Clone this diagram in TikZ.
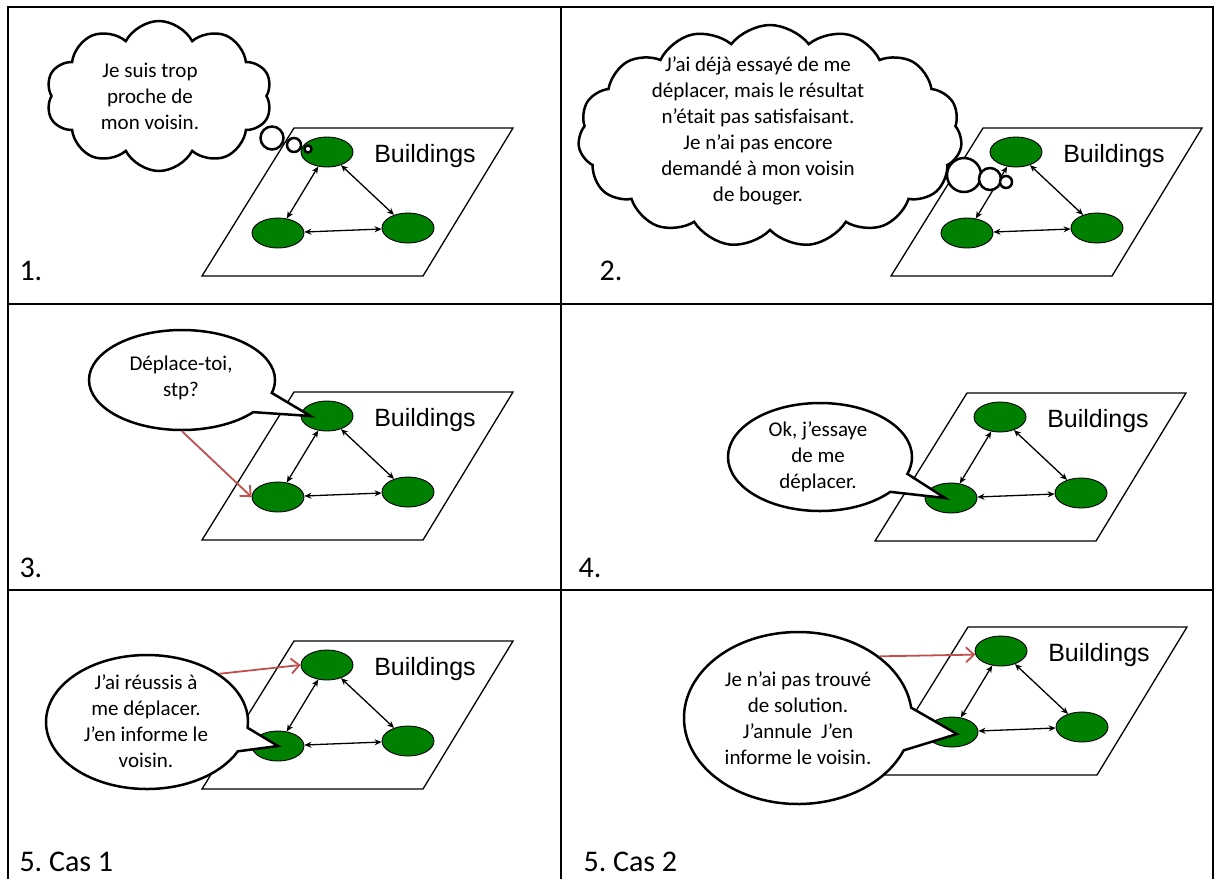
\documentclass[tikz,border=0pt]{standalone}
\usepackage{fontspec}
\setmainfont{Carlito}
\newfontfamily\arialfont{Liberation Sans}
\usetikzlibrary{calc,arrows.meta,shapes.geometric,shapes.callouts,shapes.symbols}
\definecolor{bgreen}{RGB}{0,128,0}
\definecolor{askred}{RGB}{192,80,77}
\frenchspacing

\begin{document}
\begin{tikzpicture}[x=1pt,y=-1pt,
        bldg/.style={ellipse,draw,fill=bgreen,minimum width=52pt,minimum height=30pt,inner sep=0pt,line width=0.9pt},
        link/.style={line width=1.3pt,{Stealth[length=7pt,width=6pt]}-{Stealth[length=7pt,width=6pt]}},
        ask/.style={line width=1.8pt,draw=askred,-{Straight Barb[length=8pt,width=15pt]}},
        said/.style={ellipse callout,draw,fill=white,line width=2.5pt,inner sep=0pt},
        thought/.style={cloud,cloud ignores aspect,draw,fill=white,line width=2.5pt,inner sep=0pt},
        puff/.style={draw,fill=white,line width=2.5pt},
        words/.style={align=center,font=\fontsize{21}{26}\selectfont},
        panel/.style={anchor=base west,font=\fontsize{30}{36}\selectfont}]
    \useasboundingbox (0,0) rectangle (1217,879);
    % grid
    \draw[line width=1.4pt] (8,879) -- (8,7) -- (1213,7) -- (1213,879);
    \draw[line width=1.4pt] (561,7) -- (561,879);
    \draw[line width=1.4pt] (8,304) -- (1213,304);
    \draw[line width=1.4pt] (8,590) -- (1213,590);
    % the same buildings in every panel
    \foreach \p/\dx/\dy in {a/0/0,b/689/0,c/0/264,d/673/265,e/0/513,f/674/499}{
        \begin{scope}[shift={(\dx,\dy)}]
            \draw[line width=1.3pt] (294,128) -- (513,128) -- (423,276) -- (202,276) -- cycle;
            \node[bldg] (\p-top) at (327,152) {};
            \node[bldg] (\p-left) at (278,233) {};
            \node[bldg] (\p-right) at (408,228) {};
            \node[font=\arialfont\fontsize{25}{29}\selectfont] (\p-name) at (425,156) {Buildings};
            \draw[link] (\p-top) -- (\p-left);
            \draw[link] (\p-top) -- (\p-right);
            \draw[link] (\p-left) -- (\p-right);
        \end{scope}
    }
    \node[panel] (lab1) at (16,280) {1.};
    \node[panel] (lab2) at (596,280) {2.};
    \node[panel] (lab3) at (16,577) {3.};
    \node[panel] (lab4) at (575,577) {4.};
    \node[panel] (lab5) at (16,871) {5. Cas 1};
    \node[panel] (lab6) at (580,871) {5. Cas 2};
    % 1.
    \node[thought,cloud puffs=10,cloud puff arc=125,minimum width=226pt,minimum height=150pt] (cloudA) at (159,96) {};
    \node[words] (wordsA) at (150,96) {Je suis trop\\proche de\\mon voisin.};
    \draw[puff] (272,138) circle[radius=11.5pt];
    \draw[puff] (294,145) circle[radius=7pt];
    \draw[puff] (308,149) circle[radius=3.5pt];
    % 2.
    \node[thought,cloud puffs=15,cloud puff arc=105,minimum width=384pt,minimum height=222pt] (cloudB) at (770,136) {};
    \node[words] (wordsB) at (758,131) {J’ai déjà essayé de me\\déplacer, mais le résultat\\n’était pas satisfaisant.\\Je n’ai pas encore\\demandé à mon voisin\\de bouger.};
    \draw[puff] (964,175) circle[radius=17pt];
    \draw[puff] (990,179) circle[radius=11pt];
    \draw[puff] (1006,182) circle[radius=6pt];
    % 3.
    \node[said,minimum width=186pt,minimum height=100pt,callout pointer arc=25,
        callout absolute pointer={($(c-top.west)+(10,0)$)}] (bubC) at (182,380) {};
    \node[words] (wordsC) at (181,378) {Déplace-toi,\\stp?};
    \draw[ask] (bubC.south) -- (c-left.west);
    % 4.
    \node[said,minimum width=184pt,minimum height=108pt,callout pointer arc=22,
        callout absolute pointer={($(d-left.center)+(-6,0)$)}] (bubD) at (820,457) {};
    \node[words] (wordsD) at (818,457) {Ok, j’essaye\\de me\\déplacer.};
    % 5. Cas 1
    \node[said,minimum width=202pt,minimum height=134pt,callout pointer arc=21,
        callout absolute pointer={(e-left.center)}] (bubE) at (147,722) {};
    \node[words] (wordsE) at (146,721) {J’ai réussis à\\me déplacer.\\J’en informe le\\voisin.};
    \draw[ask] (bubE.north east) -- (e-top.west);
    % 5. Cas 2
    \node[said,minimum width=228pt,minimum height=172pt,callout pointer arc=29,
        callout absolute pointer={($(f-left.center)+(5,2)$)}] (bubF) at (798,718) {};
    \node[words] (wordsF) at (798,718) {Je n’ai pas trouvé\\de solution.\\J’annule~ J’en\\informe le voisin.};
    \draw[ask] (bubF.north east) -- (f-top.188);
\end{tikzpicture}
\end{document}
